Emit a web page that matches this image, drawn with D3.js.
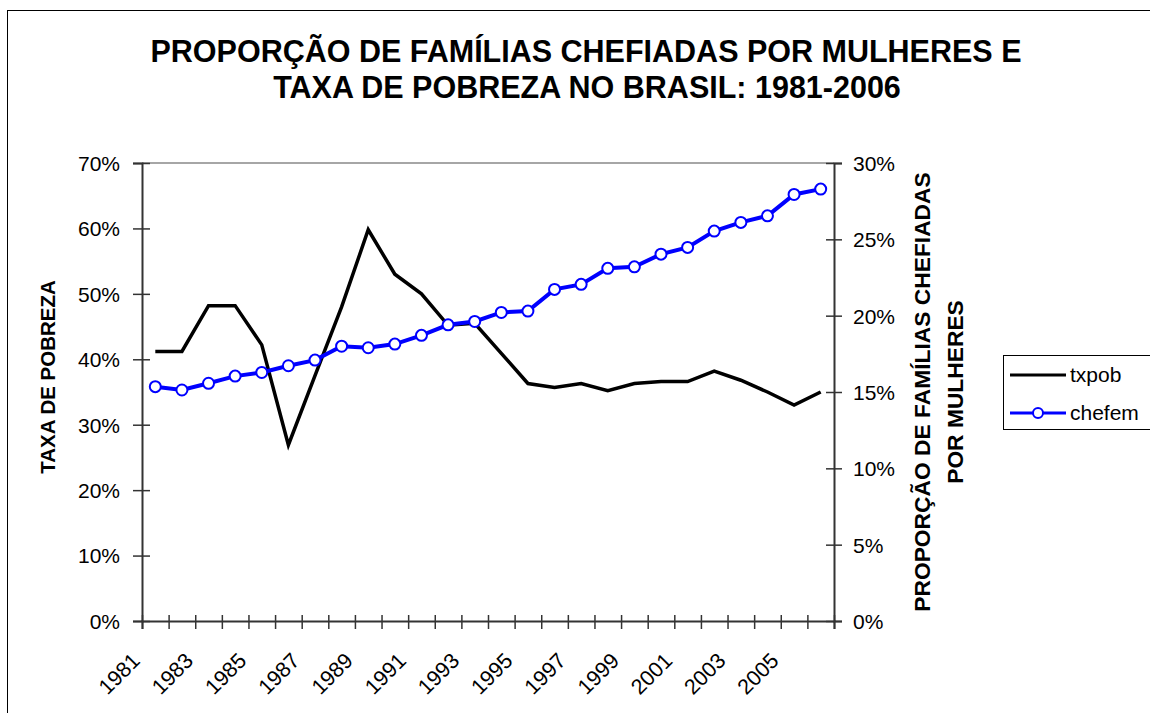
<!DOCTYPE html>
<html>
<head>
<meta charset="utf-8">
<script src="https://cdn.jsdelivr.net/npm/d3@7"></script>
<style>
  body { margin: 0; background: #fff; }
  text { font-family: "Liberation Sans", Arial, sans-serif; fill: #000; }
</style>
</head>
<body>
<svg width="1150" height="713"></svg>
<script>
// data
const years = ["1981","1982","1983","1984","1985","1986","1987","1988","1989","1990",
  "1991","1992","1993","1994","1995","1996","1997","1998","1999","2000",
  "2001","2002","2003","2004","2005","2006"];
const txpob = [41.2, 41.2, 48.2, 48.2, 42.2, 26.9, 37.5, 48.0, 59.8, 53.0,
  50.0, 45.2, 45.5, 40.9, 36.3, 35.7, 36.3, 35.2, 36.3, 36.6,
  36.6, 38.2, 36.8, 35.0, 33.0, 35.0];
const chefem = [15.35, 15.13, 15.57, 16.04, 16.28, 16.72, 17.09, 18.0, 17.9, 18.14,
  18.71, 19.40, 19.62, 20.21, 20.30, 21.72, 22.05, 23.10, 23.20, 24.03,
  24.47, 25.54, 26.11, 26.54, 27.94, 28.29];
const leftTicks = [0, 10, 20, 30, 40, 50, 60, 70];
const rightTicks = [0, 5, 10, 15, 20, 25, 30];
const labelYears = years.filter((d, i) => i % 2 === 0 && i < 25);

const svg = d3.select("svg");

const plotLeft = 142, plotRight = 834, plotTop = 163, plotBottom = 621;

// outer frame
svg.append("rect")
  .attr("x", 7.5).attr("y", 10.5)
  .attr("width", 1160).attr("height", 720)
  .attr("fill", "none").attr("stroke", "#000").attr("stroke-width", 1);

const x = d3.scaleBand().domain(years).range([plotLeft, plotRight]);
const xEdge = d3.scaleLinear().domain([0, years.length]).range([plotLeft, plotRight]);
const yL = d3.scaleLinear().domain([0, 70]).range([plotBottom, plotTop]);
const yR = d3.scaleLinear().domain([0, 30]).range([plotBottom, plotTop]);

// plot area top border
svg.append("line")
  .attr("x1", plotLeft).attr("x2", plotRight)
  .attr("y1", plotTop).attr("y2", plotTop)
  .attr("stroke", "#888").attr("stroke-width", 1.5);

// left axis
const gL = svg.append("g")
  .attr("transform", "translate(" + plotLeft + ",0)")
  .call(d3.axisLeft(yL).tickValues(leftTicks).tickFormat(d => d + "%").tickSize(9).tickPadding(13));
gL.select(".domain").attr("stroke", "#333").attr("stroke-width", 2);
gL.selectAll(".tick line").attr("x1", 8).attr("x2", -9).attr("stroke", "#333").attr("stroke-width", 1.5);
gL.selectAll(".tick text").style("font-size", "21px").attr("dy", "0.35em");

// right axis
const gR = svg.append("g")
  .attr("transform", "translate(" + plotRight + ",0)")
  .call(d3.axisRight(yR).tickValues(rightTicks).tickFormat(d => d + "%").tickSize(8).tickPadding(11));
gR.select(".domain").attr("stroke", "#333").attr("stroke-width", 2);
gR.selectAll(".tick line").attr("x1", -8).attr("x2", 8).attr("stroke", "#333").attr("stroke-width", 1.5);
gR.selectAll(".tick text").style("font-size", "21px").attr("dy", "0.35em");

// bottom axis: ticks on category edges
const gB = svg.append("g")
  .attr("transform", "translate(0," + plotBottom + ")")
  .call(d3.axisBottom(xEdge).tickValues(d3.range(years.length + 1)).tickFormat("").tickSize(8));
gB.select(".domain").attr("stroke", "#333").attr("stroke-width", 2);
gB.selectAll(".tick line").attr("y1", -6).attr("y2", 8).attr("stroke", "#333").attr("stroke-width", 1.5);

svg.append("g").selectAll("text")
  .data(labelYears)
  .enter()
  .append("text")
  .attr("transform", d => "translate(" + (x(d) + x.bandwidth() / 2 - 14) + ",662) rotate(-45)")
  .style("text-anchor", "end")
  .style("font-size", "21.5px")
  .text(d => d);

// series
const cx = d => x(d) + x.bandwidth() / 2;

svg.append("path")
  .datum(txpob)
  .attr("fill", "none")
  .attr("stroke", "#000")
  .attr("stroke-width", 3.5)
  .attr("d", d3.line().x((d, i) => cx(years[i])).y(d => yL(d)));

svg.append("path")
  .datum(chefem)
  .attr("fill", "none")
  .attr("stroke", "#0000ff")
  .attr("stroke-width", 4)
  .attr("d", d3.line().x((d, i) => cx(years[i])).y(d => yR(d)));

svg.append("g").selectAll("circle")
  .data(chefem)
  .enter()
  .append("circle")
  .attr("cx", (d, i) => cx(years[i]))
  .attr("cy", d => yR(d))
  .attr("r", 5.5)
  .attr("fill", "#fff")
  .attr("stroke", "#0000ff")
  .attr("stroke-width", 2);

// titles
const title = svg.append("text")
  .style("text-anchor", "middle")
  .style("font-size", "30.5px")
  .style("font-weight", "bold");
title.append("tspan").attr("x", 586).attr("y", 62).text("PROPORÇÃO DE FAMÍLIAS CHEFIADAS POR MULHERES E");
title.append("tspan").attr("x", 587).attr("y", 98).text("TAXA DE POBREZA NO BRASIL: 1981-2006");

svg.append("text")
  .attr("transform", "translate(55,377) rotate(-90)")
  .style("text-anchor", "middle")
  .style("font-size", "20.5px")
  .style("font-weight", "bold")
  .text("TAXA DE POBREZA");

const rt = svg.append("text")
  .attr("transform", "translate(0,392) rotate(-90)")
  .style("text-anchor", "middle")
  .style("font-size", "22.8px")
  .style("font-weight", "bold");
rt.append("tspan").attr("x", 0).attr("y", 930).text("PROPORÇÃO DE FAMÍLIAS CHEFIADAS");
rt.append("tspan").attr("x", 0).attr("y", 963).text("POR MULHERES");

// legend
const lg = svg.append("g");
lg.append("rect")
  .attr("x", 1003.5).attr("y", 355.5)
  .attr("width", 160).attr("height", 74)
  .attr("fill", "#fff").attr("stroke", "#000").attr("stroke-width", 1);
lg.append("line")
  .attr("x1", 1010).attr("x2", 1066).attr("y1", 375).attr("y2", 375)
  .attr("stroke", "#000").attr("stroke-width", 3);
lg.append("text").attr("x", 1070).attr("y", 382).style("font-size", "21px").text("txpob");
lg.append("line")
  .attr("x1", 1010).attr("x2", 1066).attr("y1", 413).attr("y2", 413)
  .attr("stroke", "#0000ff").attr("stroke-width", 3);
lg.append("circle")
  .attr("cx", 1038).attr("cy", 413).attr("r", 5)
  .attr("fill", "#fff").attr("stroke", "#0000ff").attr("stroke-width", 2);
lg.append("text").attr("x", 1070).attr("y", 420).style("font-size", "21px").text("chefem");
</script>
</body>
</html>
